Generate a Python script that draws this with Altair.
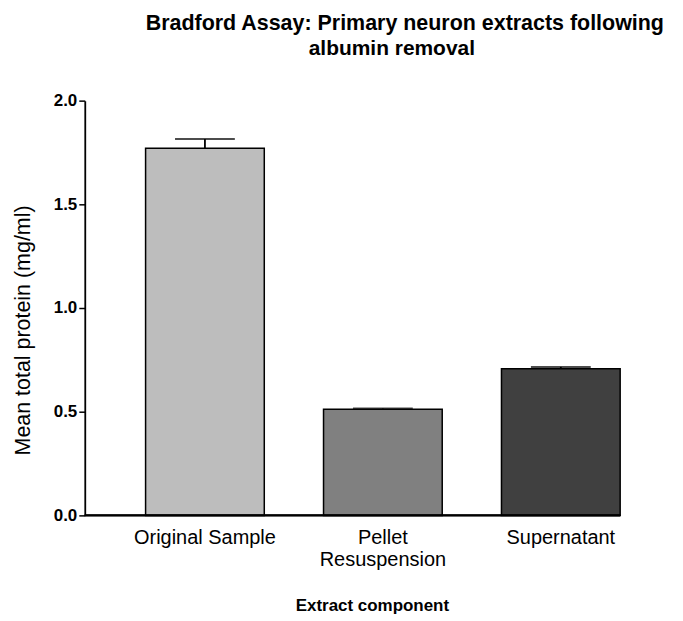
import altair as alt
import pandas as pd

categories = ["Original Sample", "Pellet Resuspension", "Supernatant"]
means = [1.770, 0.512, 0.707]
errors = [0.045, 0.003, 0.009]
colors = ["#bdbdbd", "#808080", "#404040"]
y_ticks = [0.0, 0.5, 1.0, 1.5, 2.0]
title_lines = ["Bradford Assay: Primary neuron extracts following", "albumin removal"]

df = pd.DataFrame({"cat": categories, "mean": means, "err": errors})
df["top"] = df["mean"] + df["err"]

W, H = 537, 416
FONT = "Liberation Sans"

x = alt.X("cat:N", sort=categories,
          scale=alt.Scale(range=[61, 537], paddingInner=0.333, paddingOuter=0),
          axis=alt.Axis(title="Extract component", domain=False, ticks=False,
                        labelAngle=0, labelFont=FONT, labelFontSize=20, labelColor="black",
                        labelPadding=12, labelBaseline="top", labelLineHeight=22,
                        labelExpr="datum.label == 'Pellet Resuspension' ? ['Pellet', 'Resuspension'] : datum.label",
                        titleFont=FONT, titleFontSize=17, titleFontWeight="bold", titleColor="black",
                        titleX=288, titleY=95, titleAlign="center", titleBaseline="alphabetic"))
y_scale = alt.Scale(domain=[0, 2], nice=False)
y = alt.Y("mean:Q", scale=y_scale,
          axis=alt.Axis(title="Mean total protein (mg/ml)", values=y_ticks, format=".1f",
                        grid=False, domainColor="black", domainWidth=1.8,
                        tickColor="black", tickWidth=1.5, tickSize=6,
                        labelFont=FONT, labelFontSize=17, labelFontWeight="bold", labelColor="black",
                        labelPadding=2,
                        titleFont=FONT, titleFontSize=21.5, titleFontWeight="normal", titleColor="black",
                        titleX=-50, titleY=230, titleAlign="center", titleAngle=-90))

bars = alt.Chart(df).mark_bar(stroke="black", strokeWidth=1.5).encode(
    x=x, y=y,
    color=alt.Color("cat:N", scale=alt.Scale(domain=categories, range=colors), legend=None),
)
err_rule = alt.Chart(df).mark_rule(color="black", strokeWidth=1.8).encode(
    x=alt.X("cat:N", sort=categories), y=alt.Y("mean:Q", scale=y_scale), y2="top:Q")
caps = alt.Chart(df).mark_tick(color="black", size=60, thickness=2).encode(
    x=alt.X("cat:N", sort=categories), y=alt.Y("top:Q", scale=y_scale))
baseline = alt.Chart(df).mark_rule(color="black", strokeWidth=1.8).encode(
    x=alt.value(0), x2=alt.value(W), y=alt.datum(0))

title1 = alt.Chart(pd.DataFrame({"t": [title_lines[0]]})).mark_text(
    font=FONT, fontSize=21.5, fontWeight="bold", align="center", baseline="alphabetic", color="black"
).encode(text="t:N", x=alt.value(321), y=alt.value(-71))
title2 = alt.Chart(pd.DataFrame({"t": [title_lines[1]]})).mark_text(
    font=FONT, fontSize=21, fontWeight="bold", align="center", baseline="alphabetic", color="black"
).encode(text="t:N", x=alt.value(308), y=alt.value(-46))

chart = alt.layer(bars, err_rule, caps, baseline, title1, title2).properties(
    width=W, height=H,
    autosize=alt.AutoSizeParams(type="none"),
    padding={"left": 77, "top": 92, "right": 55, "bottom": 100},
).configure_view(stroke=None)

chart.save("out.html", embed_options={"renderer": "svg", "actions": False})
